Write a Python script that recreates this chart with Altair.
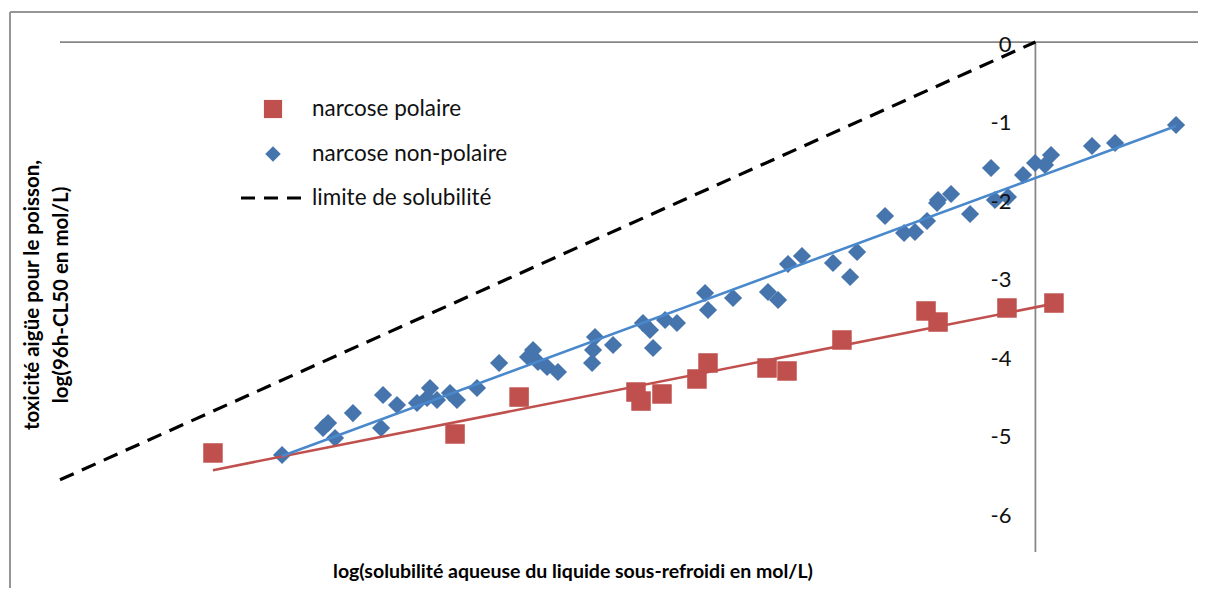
import altair as alt
import pandas as pd

# ---------------- data ----------------
polar_x = [-5.059, -3.570, -3.176, -2.457, -2.426, -2.297, -2.082, -2.014,
           -1.651, -1.528, -1.190, -0.673, -0.599, -0.175, 0.114]
polar_y = [-5.238, -4.996, -4.525, -4.461, -4.576, -4.486, -4.295, -4.091,
           -4.155, -4.193, -3.798, -3.428, -3.569, -3.390, -3.327]

nonpolar_x = [-4.634, -4.382, -4.351, -4.308, -4.198, -4.025, -4.013, -3.927,
              -3.804, -3.742, -3.724, -3.681, -3.601, -3.558, -3.435, -3.299,
              -3.121, -3.090, -3.060, -3.004, -2.937, -2.727, -2.721, -2.709,
              -2.598, -2.414, -2.371, -2.352, -2.278, -2.205, -2.032, -2.014,
              -1.860, -1.645, -1.583, -1.522, -1.436, -1.245, -1.140, -1.097,
              -0.925, -0.808, -0.741, -0.667, -0.605, -0.599, -0.519, -0.402,
              -0.273, -0.249, -0.169, -0.076, -0.002, 0.059, 0.096, 0.348,
              0.490, 0.865]
nonpolar_y = [-5.264, -4.920, -4.856, -5.047, -4.729, -4.920, -4.499, -4.627,
              -4.601, -4.537, -4.410, -4.563, -4.474, -4.563, -4.410, -4.091,
              -4.015, -3.926, -4.078, -4.142, -4.206, -4.091, -3.926, -3.760,
              -3.862, -3.581, -3.671, -3.900, -3.543, -3.581, -3.199, -3.416,
              -3.263, -3.186, -3.288, -2.829, -2.727, -2.817, -2.995, -2.677,
              -2.218, -2.434, -2.422, -2.281, -2.052, -2.014, -1.937, -2.192,
              -1.606, -2.014, -1.976, -1.695, -1.542, -1.568, -1.440, -1.326,
              -1.287, -1.058]

limit_x = [-6.0, 0.0]
limit_y = [-5.58, 0.0]

ytick_values = [0, -1, -2, -3, -4, -5, -6]
ytick_labels = ["0", "-1", "-2", "-3", "-4", "-5", "-6"]

legend_labels = ["narcose polaire", "narcose non-polaire", "limite de solubilité"]
x_title = "log(solubilité aqueuse du liquide sous-refroidi  en mol/L)"
y_title_lines = ["toxicité aigüe pour le poisson,", "log(96h-CL50 en mol/L)"]

x_domain = [-6, 1]
y_domain = [-6.5, 0]

# ---------------- styling ----------------
RED = "#C0504D"
BLUE_PT = "#4675AE"
BLUE_LN = "#4A88CC"
AXIS_GRAY = "#868686"
FRAME_GRAY = "#969696"
FONT = "Lato"

W, H = 1138, 510

xs = alt.Scale(domain=x_domain, nice=False, zero=False)
ys = alt.Scale(domain=y_domain, nice=False, zero=False)

polar_df = pd.DataFrame({"x": polar_x, "y": polar_y})
nonpolar_df = pd.DataFrame({"x": nonpolar_x, "y": nonpolar_y})
limit_df = pd.DataFrame({"x": limit_x, "y": limit_y})
ticks_df = pd.DataFrame({"x": [0] * len(ytick_values), "y": ytick_values, "label": ytick_labels})
xaxis_df = pd.DataFrame({"x": [x_domain[0]], "x2": [x_domain[1]], "y": [0]})
yaxis_df = pd.DataFrame({"x": [0], "y": [y_domain[1]], "y2": [y_domain[0]]})

X = lambda f="x": alt.X(f"{f}:Q", scale=xs, axis=None)
Y = lambda f="y": alt.Y(f"{f}:Q", scale=ys, axis=None)

base_dummy = pd.DataFrame({"a": [0]})

# outer frame (top and left edges of the chart area)
frame_top = alt.Chart(base_dummy).mark_rule(color=FRAME_GRAY, strokeWidth=2).encode(
    x=alt.value(-50), x2=alt.value(W + 20), y=alt.value(-30))
frame_left = alt.Chart(base_dummy).mark_rule(color=FRAME_GRAY, strokeWidth=2).encode(
    x=alt.value(-50), y=alt.value(-30), y2=alt.value(H + 44))

xaxis = alt.Chart(xaxis_df).mark_rule(color=AXIS_GRAY, strokeWidth=1.75).encode(
    x=X(), x2="x2:Q", y=Y())
yaxis = alt.Chart(yaxis_df).mark_rule(color=AXIS_GRAY, strokeWidth=1.75).encode(
    x=X(), y=Y(), y2="y2:Q")

ticks = alt.Chart(ticks_df).mark_text(
    align="right", baseline="middle", dx=-24, dy=3, fontSize=22, font=FONT, color="#111111"
).encode(x=X(), y=Y(), text="label:N")

limit = alt.Chart(limit_df).mark_line(
    color="black", strokeDash=[15, 9], strokeWidth=3.2
).encode(x=X(), y=Y())

polar_pts = alt.Chart(polar_df).mark_point(
    shape="square", filled=True, size=380, color=RED, opacity=1
).encode(x=X(), y=Y())
nonpolar_pts = alt.Chart(nonpolar_df).mark_point(
    shape="diamond", filled=True, size=330, color=BLUE_PT, opacity=1
).encode(x=X(), y=Y())

polar_fit = alt.Chart(polar_df).transform_regression("x", "y").mark_line(
    color=RED, strokeWidth=2.6
).encode(x=X(), y=Y())
nonpolar_fit = alt.Chart(nonpolar_df).transform_regression("x", "y").mark_line(
    color=BLUE_LN, strokeWidth=2.6
).encode(x=X(), y=Y())

# legend
leg_sq = alt.Chart(base_dummy).mark_point(shape="square", filled=True, size=330, color=RED, opacity=1).encode(
    x=alt.value(213), y=alt.value(67))
leg_di = alt.Chart(base_dummy).mark_point(shape="diamond", filled=True, size=240, color=BLUE_PT, opacity=1).encode(
    x=alt.value(213), y=alt.value(112))
leg_dash = alt.Chart(base_dummy).mark_rule(color="black", strokeDash=[14, 9], strokeWidth=3.2).encode(
    x=alt.value(181), x2=alt.value(243), y=alt.value(156))
leg_txt = [
    alt.Chart(base_dummy).mark_text(align="left", baseline="middle", fontSize=22.5, font=FONT, color="#111111",
                                    text=legend_labels[i]).encode(x=alt.value(252), y=alt.value(yy))
    for i, yy in enumerate([67, 112, 156])
]

# titles
ytitle = [
    alt.Chart(base_dummy).mark_text(angle=270, align="center", baseline="middle", fontSize=20.5,
                                    fontWeight="bold", font=FONT, color="black",
                                    text=y_title_lines[i]).encode(x=alt.value(xx), y=alt.value(253))
    for i, xx in enumerate([-27, 2])
]
xtitle = alt.Chart(base_dummy).mark_text(align="center", baseline="middle", fontSize=19.5,
                                         fontWeight="bold", font=FONT, color="black",
                                         text=x_title).encode(x=alt.value(513), y=alt.value(530))

chart = alt.layer(
    frame_top, frame_left, xaxis, yaxis, limit,
    polar_pts, nonpolar_pts, polar_fit, nonpolar_fit, ticks,
    leg_sq, leg_di, leg_dash, *leg_txt, *ytitle, xtitle
).properties(
    width=W, height=H,
    autosize=alt.AutoSizeParams(type="none"),
    padding={"left": 52, "top": 34, "right": 0, "bottom": 36},
).configure_view(stroke=None)

chart.save("out.html", embed_options={"renderer": "svg", "actions": False})
